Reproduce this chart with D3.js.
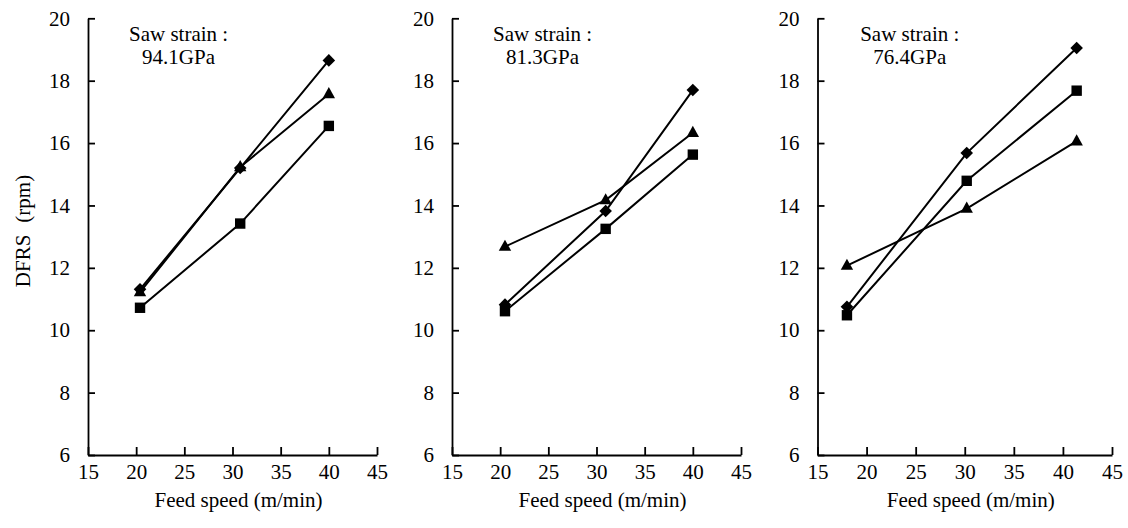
<!DOCTYPE html>
<html>
<head>
<meta charset="utf-8">
<script src="https://cdn.jsdelivr.net/npm/d3@7"></script>
<style>
  html, body { margin: 0; padding: 0; background: #fff; }
  svg text { font-family: "Liberation Serif", "DejaVu Serif", serif !important; fill: #000; }
</style>
</head>
<body>
<svg id="chart" width="1128" height="528"></svg>
<script>
// ---- data ----
const xTicks = [15, 20, 25, 30, 35, 40, 45];
const yTicks = [6, 8, 10, 12, 14, 16, 18, 20];
const strainLabels = ["94.1GPa", "81.3GPa", "76.4GPa"];

const feed1 = [20.4, 30.8, 40.0];
const diamond1 = [11.31, 15.20, 18.65];
const triangle1 = [11.22, 15.23, 17.57];
const square1 = [10.72, 13.42, 16.55];

const feed2 = [20.5, 30.95, 40.0];
const diamond2 = [10.82, 13.82, 17.70];
const triangle2 = [12.68, 14.17, 16.33];
const square2 = [10.61, 13.25, 15.63];

const feed3 = [18.0, 30.2, 41.4];
const diamond3 = [10.75, 15.68, 19.05];
const triangle3 = [12.07, 13.90, 16.06];
const square3 = [10.48, 14.79, 17.68];

const panels = [
  { feed: feed1, diamond: diamond1, triangle: triangle1, square: square1, label: strainLabels[0], x0: 88, x1: 377, yTitle: true },
  { feed: feed2, diamond: diamond2, triangle: triangle2, square: square2, label: strainLabels[1], x0: 452, x1: 741, yTitle: false },
  { feed: feed3, diamond: diamond3, triangle: triangle3, square: square3, label: strainLabels[2], x0: 817.5, x1: 1112, yTitle: false }
];

const svg = d3.select("#chart");
const yTop = 18.3, yBot = 455;
const tickFont = 21, textFont = 21;
const FONT = '"Liberation Serif", "DejaVu Serif", serif';

const markerPath = {
  diamond: "M0,-6.3L6.3,0L0,6.3L-6.3,0Z",
  square: "M-5.2,-5.2H5.2V5.2H-5.2Z",
  triangle: "M0,-7L6.2,4.2H-6.2Z"
};

panels.forEach(p => {
  const x = d3.scaleLinear().domain([15, 45]).range([p.x0, p.x1]);
  const y = d3.scaleLinear().domain([6, 20]).range([yBot, yTop]);
  const g = svg.append("g").attr("font-family", FONT);

  const xa = g.append("g").attr("transform", `translate(0,${yBot})`)
    .call(d3.axisBottom(x).tickValues(xTicks).tickFormat(d3.format("d"))
      .tickSizeInner(-8).tickSizeOuter(0).tickPadding(9));
  const ya = g.append("g").attr("transform", `translate(${p.x0},0)`)
    .call(d3.axisLeft(y).tickValues(yTicks).tickFormat(d3.format("d"))
      .tickSizeInner(-7).tickSizeOuter(0).tickPadding(18));
  [xa, ya].forEach(a => {
    a.attr("font-family", FONT).attr("font-size", tickFont);
    a.select(".domain").attr("stroke", "#000").attr("stroke-width", 1.8);
    a.selectAll(".tick line").attr("stroke", "#000").attr("stroke-width", 1.8);
    a.selectAll(".tick text").attr("fill", "#000");
  });

  const series = [
    { key: "triangle", vals: p.triangle },
    { key: "square", vals: p.square },
    { key: "diamond", vals: p.diamond }
  ];
  const line = d3.line().x(d => x(d[0])).y(d => y(d[1]));
  series.forEach(s => {
    const pts = p.feed.map((f, i) => [f, s.vals[i]]);
    g.append("path").attr("d", line(pts)).attr("fill", "none")
      .attr("stroke", "#000").attr("stroke-width", 2);
    g.selectAll(null).data(pts).enter().append("path")
      .attr("d", markerPath[s.key])
      .attr("transform", d => `translate(${x(d[0])},${y(d[1])})`)
      .attr("fill", "#000");
  });

  const ax = x(24.4);
  g.append("text").attr("x", ax).attr("y", 41).attr("text-anchor", "middle")
    .attr("font-size", textFont).text("Saw strain :");
  g.append("text").attr("x", ax).attr("y", 64).attr("text-anchor", "middle")
    .attr("font-size", textFont).text(p.label);

  g.append("text").attr("x", (p.x0 + p.x1) / 2 + 6).attr("y", 507)
    .attr("text-anchor", "middle").attr("font-size", textFont).text("Feed speed (m/min)");

  if (p.yTitle) {
    const t = g.append("text").attr("transform", "translate(23,231) rotate(-90)")
      .attr("text-anchor", "middle").attr("dy", "0.35em").attr("font-size", textFont);
    t.append("tspan").text("DFRS");
    t.append("tspan").attr("dx", 12).text("(rpm)");
  }
});
</script>
</body>
</html>
